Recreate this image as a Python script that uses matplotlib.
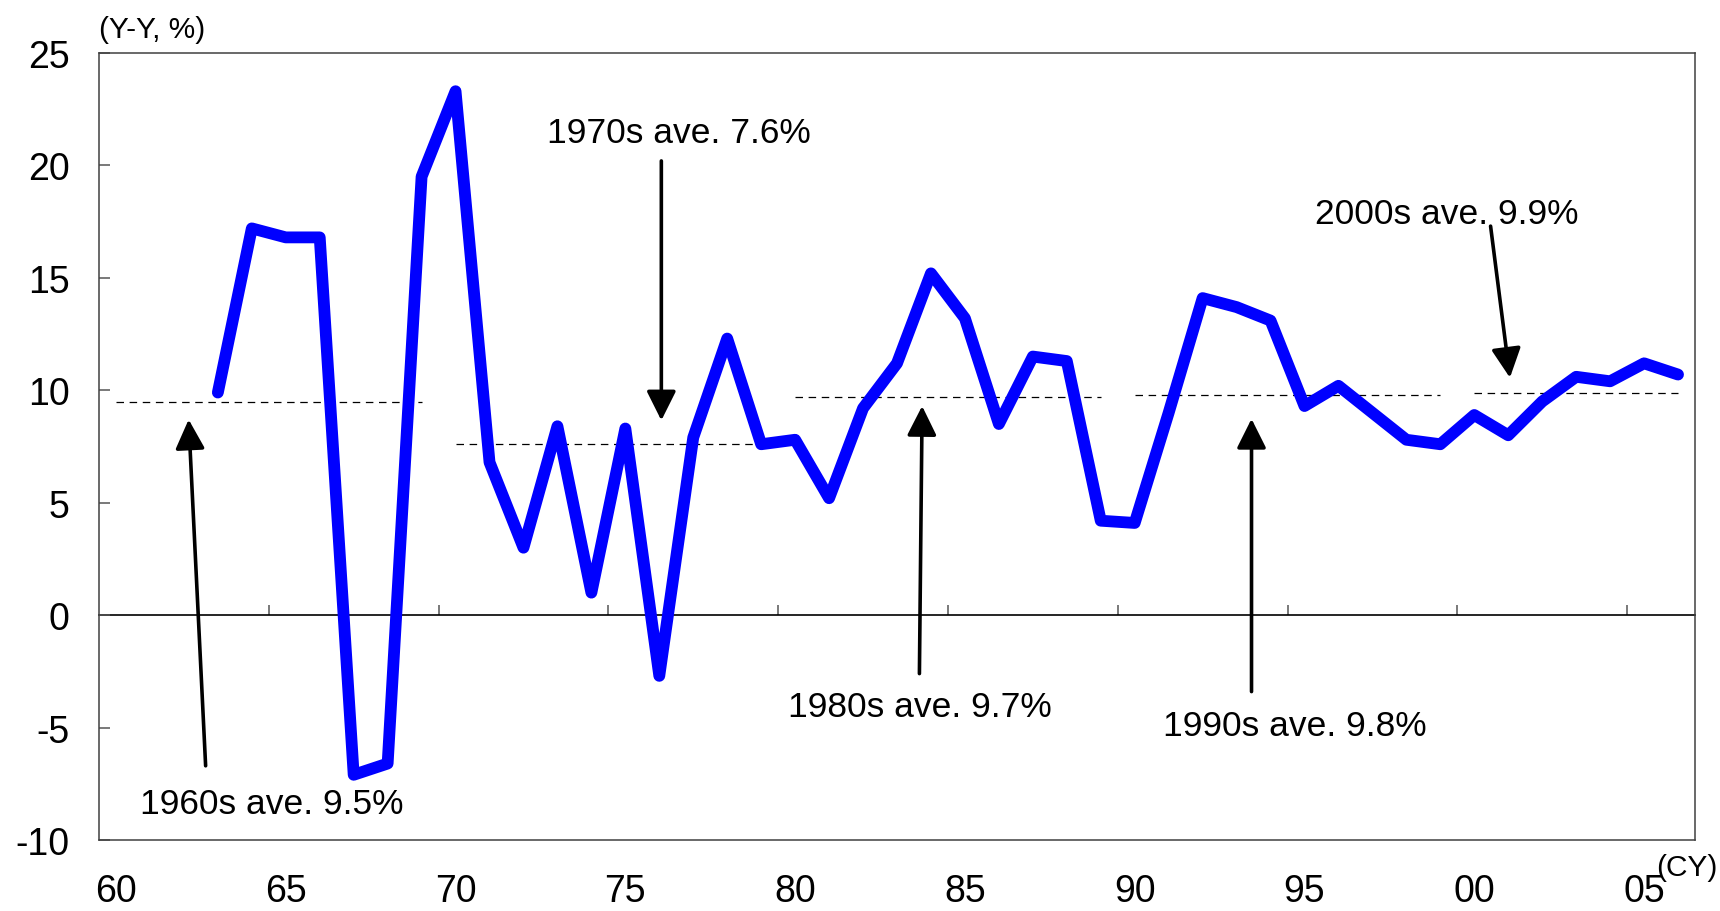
import matplotlib
matplotlib.use("Agg")
import matplotlib.pyplot as plt

plt.rcParams['font.family'] = ['Liberation Sans', 'DejaVu Sans']

# ---- data ----
years = list(range(1963, 2007))
growth = [9.9, 17.2, 16.8, 16.8, -7.1, -6.6, 19.5,
          23.3, 6.8, 3.0, 8.4, 1.0, 8.3, -2.7, 7.9, 12.3, 7.6,
          7.8, 5.2, 9.2, 11.2, 15.2, 13.2, 8.5, 11.5, 11.3, 4.2,
          4.1, 9.0, 14.1, 13.7, 13.1, 9.3, 10.2, 9.0, 7.8, 7.6,
          8.9, 8.0, 9.5, 10.6, 10.4, 11.2, 10.7]

dec_start = [1960, 1970, 1980, 1990, 2000]
dec_end = [1969, 1979, 1989, 1999, 2006]
dec_avg = [9.5, 7.6, 9.7, 9.8, 9.9]
dec_labels = ["1960s ave. 9.5%", "1970s ave. 7.6%", "1980s ave. 9.7%",
              "1990s ave. 9.8%", "2000s ave. 9.9%"]
# annotation text positions (x, baseline y) and arrow (tail -> head)
text_xy = [(1964.58, -8.8), (1976.58, 21.05), (1983.66, -4.5),
           (1994.71, -5.35), (1999.19, 17.45)]
arrow_tail = [(1962.64, -6.7), (1976.06, 20.2), (1983.66, -2.6),
              (1993.44, -3.4), (2000.48, 17.3)]
arrow_head = [(1962.14, 8.7), (1976.06, 8.66), (1983.74, 9.3),
              (1993.44, 8.73), (2001.05, 10.56)]

xtick_pos = list(range(1960, 2006, 5))
xtick_lab = ["60", "65", "70", "75", "80", "85", "90", "95", "00", "05"]
ytick_pos = [25, 20, 15, 10, 5, 0, -5, -10]
ytick_lab = ["25", "20", "15", "10", "5", "0", "-5", "-10"]
zero_ticks = [y + 4.5 for y in range(1960, 2005, 5)]

# ---- figure ----
fig = plt.figure(figsize=(17.2, 9.12), dpi=100)
ax = fig.add_axes([99 / 1720, 1 - 841 / 912, (1695 - 99) / 1720, (841 - 54) / 912])

ax.set_xlim(1959.5, 2006.5)
ax.set_ylim(-10, 25)

spine_col = '#404040'
for s in ax.spines.values():
    s.set_color(spine_col)
    s.set_linewidth(1.1)

ax.set_yticks(ytick_pos)
ax.set_yticklabels(ytick_lab)
ax.tick_params(axis='y', direction='in', length=8, width=1.1, color='#555555',
               labelsize=27, pad=21)
ax.set_xticks(xtick_pos)
ax.set_xticklabels(xtick_lab)
ax.tick_params(axis='x', length=0, labelsize=27, pad=24)

# zero line with tick marks
sec = ax.secondary_xaxis(10 / 35)
sec.spines['bottom'].set_color('black')
sec.spines['bottom'].set_linewidth(1.2)
sec.set_xticks(zero_ticks)
sec.set_xticklabels([])
sec.tick_params(axis='x', direction='in', length=7, width=1.1, color='#555555')

# decade average dashed lines
for s, e, a in zip(dec_start, dec_end, dec_avg):
    ax.plot([s, e], [a, a], color='black', lw=0.9, linestyle=(0, (6, 4.5)), zorder=2)

# main series
ax.plot(years, growth, color='#0000FF', lw=8.5, solid_capstyle='round',
        solid_joinstyle='round', zorder=3)

# annotations
for lab, (tx, ty), tail, head in zip(dec_labels, text_xy, arrow_tail, arrow_head):
    ax.text(tx, ty, lab, ha='center', va='baseline', fontsize=25.5, zorder=5)
    ax.annotate('', xy=head, xytext=tail,
                arrowprops=dict(arrowstyle='-|>,head_length=0.9,head_width=0.45',
                                mutation_scale=20, lw=2.6, color='black',
                                shrinkA=0, shrinkB=0),
                zorder=4)

fig.text(99 / 1720, 1 - 38 / 912, "(Y-Y, %)", ha='left', va='baseline', fontsize=21.5)
fig.text(1718 / 1720, 1 - 876 / 912, "(CY)", ha='right', va='baseline', fontsize=21.5)

fig.savefig("out.png", dpi=100)
